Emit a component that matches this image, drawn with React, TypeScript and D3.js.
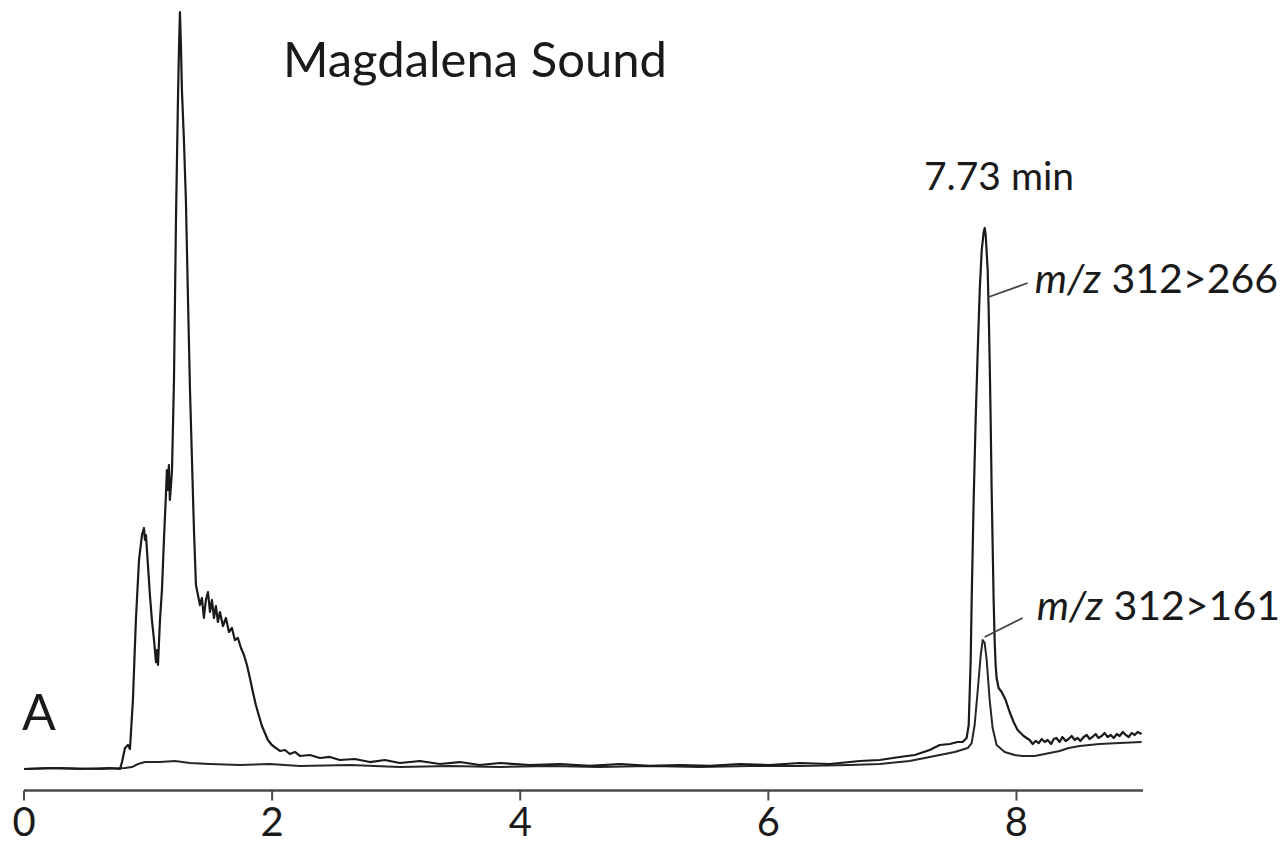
import React from "react";
import * as d3 from "d3";

// Retention time (min) and relative intensity (%)
const trace266Time = [
  0.0, 0.21, 0.451, 0.693, 0.774, 0.79, 0.814, 0.838, 0.854, 0.878, 0.902, 0.927, 0.951, 0.967, 0.975, 0.983,
  0.999, 1.015, 1.031, 1.048, 1.064, 1.072, 1.08, 1.096, 1.112, 1.128, 1.144, 1.152, 1.16, 1.168, 1.176, 1.185,
  1.193, 1.209, 1.225, 1.241, 1.249, 1.257, 1.265, 1.273, 1.289, 1.305, 1.322, 1.338, 1.354, 1.37, 1.386,
  1.402, 1.418, 1.434, 1.45, 1.466, 1.483, 1.499, 1.515, 1.531, 1.547, 1.563, 1.579, 1.604, 1.628, 1.652,
  1.676, 1.7, 1.724, 1.749, 1.773, 1.797, 1.821, 1.845, 1.869, 1.894, 1.918, 1.942, 1.966, 1.998, 2.031,
  2.063, 2.103, 2.143, 2.184, 2.224, 2.305, 2.385, 2.466, 2.546, 2.667, 2.788, 2.909, 3.03, 3.191, 3.352,
  3.513, 3.674, 3.836, 4.077, 4.319, 4.561, 4.803, 5.044, 5.286, 5.528, 5.77, 6.011, 6.253, 6.495, 6.736,
  6.898, 7.059, 7.18, 7.301, 7.381, 7.462, 7.526, 7.566, 7.598, 7.615, 7.631, 7.639, 7.655, 7.671, 7.688,
  7.704, 7.72, 7.736, 7.744, 7.752, 7.768, 7.776, 7.784, 7.792, 7.8, 7.808, 7.816, 7.824, 7.832, 7.84,
  7.856, 7.881, 7.913, 7.945, 7.977, 8.009, 8.058, 8.106, 8.131, 8.155, 8.18, 8.203, 8.228, 8.251, 8.28,
  8.3, 8.322, 8.348, 8.37, 8.397, 8.42, 8.445, 8.47, 8.493, 8.515, 8.542, 8.566, 8.59, 8.612, 8.639,
  8.66, 8.687, 8.71, 8.735, 8.76, 8.784, 8.81, 8.832, 8.857, 8.881, 8.905, 8.929, 8.953, 8.977, 9.009,
];
const trace266Intensity = [
  0.0, 0.13, 0.0, 0.13, 0.0, 0.92, 2.77, 3.17, 2.64, 9.11, 19.68, 27.61, 30.91, 31.84, 30.25, 30.91,
  26.95, 22.99, 19.68, 17.04, 14.13, 15.72, 13.74, 19.68, 23.65, 30.25, 36.2, 39.5, 36.86, 40.16, 35.54, 37.52,
  39.5, 51.39, 72.52, 88.38, 94.98, 100.0, 95.64, 89.7, 83.09, 75.17, 61.96, 50.07, 40.82, 31.57, 24.31,
  22.99, 21.66, 22.59, 19.95, 22.33, 23.38, 20.74, 22.33, 19.95, 21.53, 19.42, 20.74, 18.89, 19.95, 18.1,
  18.63, 17.04, 17.31, 15.98, 15.06, 13.74, 12.02, 10.17, 8.45, 7.0, 5.68, 4.76, 3.83, 3.17, 2.77,
  2.38, 2.51, 1.98, 2.25, 1.72, 1.85, 1.45, 1.59, 1.19, 1.32, 0.92, 1.19, 0.79, 1.06, 0.66,
  0.92, 0.53, 0.79, 0.53, 0.66, 0.4, 0.66, 0.4, 0.53, 0.4, 0.66, 0.53, 0.79, 0.66, 1.06,
  1.19, 1.59, 1.85, 2.51, 3.17, 3.3, 3.57, 3.57, 4.1, 5.81, 14.4, 22.33, 35.54, 46.1, 55.35,
  63.27, 68.56, 70.94, 71.47, 70.54, 65.92, 60.63, 54.03, 46.1, 36.86, 29.59, 22.33, 17.04, 13.74, 12.02,
  10.7, 10.17, 9.11, 7.53, 6.21, 5.15, 4.36, 3.83, 3.3, 3.7, 3.43, 3.96, 3.57, 3.83, 3.3,
  3.96, 4.1, 3.57, 4.23, 3.7, 3.96, 4.36, 3.83, 4.1, 3.7, 4.23, 4.49, 3.96, 4.23, 4.62,
  4.1, 4.36, 4.76, 4.23, 4.49, 4.1, 4.62, 4.36, 4.89, 4.49, 4.23, 4.76, 4.49, 4.89, 4.62,
];

const trace161Time = [
  0.0, 0.29, 0.612, 0.814, 0.87, 0.919, 0.975, 1.096, 1.217, 1.338, 1.499, 1.741, 1.982, 2.224, 2.627,
  3.03, 3.433, 3.836, 4.238, 4.641, 5.044, 5.447, 5.85, 6.253, 6.656, 6.898, 7.139, 7.341, 7.502, 7.607,
  7.639, 7.663, 7.688, 7.712, 7.728, 7.744, 7.76, 7.784, 7.808, 7.84, 7.905, 7.985, 8.05, 8.147, 8.268,
  8.348, 8.421, 8.509, 8.67, 8.832, 9.009,
];
const trace161Intensity = [
  0.0, 0.13, 0.0, 0.13, 0.26, 0.66, 0.92, 0.92, 1.06, 0.79, 0.66, 0.53, 0.66, 0.4, 0.53,
  0.26, 0.4, 0.26, 0.4, 0.26, 0.4, 0.26, 0.4, 0.4, 0.53, 0.66, 1.06, 1.72, 2.25, 2.77,
  3.43, 5.81, 10.44, 15.06, 17.04, 16.64, 14.4, 9.11, 5.41, 3.17, 2.25, 1.85, 1.72, 1.72, 2.11,
  2.38, 2.77, 3.04, 3.3, 3.43, 3.57,
];

const xTicks = [0, 2, 4, 6, 8];
const xDomain = [0, 9.02];
const yDomain = [0, 100];

// label annotations (time, intensity) and their leader lines
const labelNames = ["312>266", "312>161"];
const labelTime = [8.147, 8.163];
const labelIntensity = [64.2, 21.0];
const leaderStartTime = [8.09, 8.05];
const leaderStartIntensity = [64.2, 19.95];
const leaderEndTime = [7.776, 7.744];
const leaderEndIntensity = [62.35, 17.44];

const FONT = "Lato, 'Open Sans', sans-serif";

export default function App() {
  const W = 1286;
  const H = 846;
  const x = d3.scaleLinear().domain(xDomain).range([24, 1143]);
  const y = d3.scaleLinear().domain(yDomain).range([769, 12]);

  const line = d3
    .line<[number, number]>()
    .x((d) => x(d[0]))
    .y((d) => y(d[1]));

  const s266 = trace266Time.map((t, i) => [t, trace266Intensity[i]] as [number, number]);
  const s161 = trace161Time.map((t, i) => [t, trace161Intensity[i]] as [number, number]);

  const axisY = 790.5;

  return (
    <svg
      width={W}
      height={H}
      style={{ position: "absolute", left: 0, top: 0, background: "#fff" }}
      fontFamily={FONT}
    >
      <rect width={W} height={H} fill="#fff" />
      <path d={line(s161) || ""} fill="none" stroke="#262626" strokeWidth={2} strokeLinejoin="round" />
      <path d={line(s266) || ""} fill="none" stroke="#1a1a1a" strokeWidth={2.2} strokeLinejoin="round" />

      {/* x axis */}
      <line x1={x(xDomain[0])} x2={x(xDomain[1])} y1={axisY} y2={axisY} stroke="#4a4a4a" strokeWidth={2.5} />
      {xTicks.map((t) => (
        <g key={t}>
          <line x1={x(t)} x2={x(t)} y1={axisY} y2={axisY + 10} stroke="#4a4a4a" strokeWidth={2} />
          <text x={x(t)} y={836} textAnchor="middle" fontSize={40} fill="#1a1a1a">
            {t}
          </text>
        </g>
      ))}

      {/* title and annotations */}
      <text x={283} y={77} fontSize={48} fill="#1a1a1a" textLength={384} lengthAdjust="spacingAndGlyphs">
        Magdalena Sound
      </text>
      <text x={999} y={190} textAnchor="middle" fontSize={39} fill="#1a1a1a">
        7.73 min
      </text>
      <text x={22} y={730} fontSize={50} fill="#1a1a1a">
        A
      </text>

      {labelNames.map((name, i) => (
        <g key={name}>
          <line
            x1={x(leaderStartTime[i])}
            y1={y(leaderStartIntensity[i])}
            x2={x(leaderEndTime[i])}
            y2={y(leaderEndIntensity[i])}
            stroke="#444"
            strokeWidth={1.8}
          />
          <text
            x={x(labelTime[i])}
            y={y(labelIntensity[i])}
            dominantBaseline="middle"
            fontSize={41}
            fill="#1a1a1a"
          >
            <tspan fontStyle="italic">m/z</tspan> {name}
          </text>
        </g>
      ))}
    </svg>
  );
}
